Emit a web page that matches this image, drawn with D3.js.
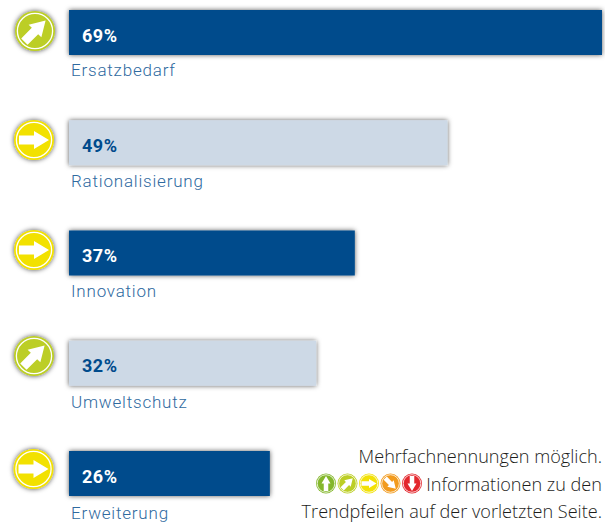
<!DOCTYPE html>
<html><head><meta charset="utf-8">
<script src="https://cdnjs.cloudflare.com/ajax/libs/d3/7.8.5/d3.min.js"></script>
<style>html,body{margin:0;padding:0;background:#fff}svg{display:block}</style>
</head><body><svg id="c" width="605" height="524"></svg>
<script>
const categories=["Ersatzbedarf","Rationalisierung","Innovation","Umweltschutz","Erweiterung"];
const values=[69,49,37,32,26];
const trends=["upRight","right","right","upRight","right"];
const legendTrends=["up","upRight","right","downRight","down"];
const noteLines=["Mehrfachnennungen möglich.","Informationen zu den","Trendpfeilen auf der vorletzten Seite."];

const navy="#004b8c",pale="#cdd9e6",labelBlue="#2f6a9f";
const trendColor={up:"#84b72c",upRight:"#bcce25",right:"#f2e106",downRight:"#f29b1e",down:"#e3272d"};
const trendAngle={up:-90,upRight:-45,right:0,downRight:45,down:90};
const barFill=[navy,pale,navy,pale,navy], valueFill=["#fff",navy,"#fff",navy,"#fff"];
const iconCx=[35,34,34,34,33.5], iconCy=[31,140,250,356,469];
const labelY=[76,187,297,407.5,518.5];

const svg=d3.select("#c");
const defs=svg.append("defs");
const f=defs.append("filter").attr("id","sh").attr("x","-10%").attr("y","-30%").attr("width","120%").attr("height","160%");
f.append("feDropShadow").attr("dx",0).attr("dy",0).attr("stdDeviation",2.8).attr("flood-color","#000").attr("flood-opacity",0.65);
const f2=defs.append("filter").attr("id","sh2").attr("x","-30%").attr("y","-30%").attr("width","160%").attr("height","160%");
f2.append("feDropShadow").attr("dx",0).attr("dy",0).attr("stdDeviation",2.6).attr("flood-color","#000").attr("flood-opacity",0.7);

const x=d3.scaleLinear().domain([0,69]).range([69,602]);
const y=d3.scalePoint().domain(categories).range([10,451]);
const bw=45;

function icon(g,t,r,shadow){
  const s=r/20;
  g.append("circle").attr("r",r).attr("fill",trendColor[t]).attr("filter",shadow?"url(#sh2)":null);
  g.append("circle").attr("r",r*0.88).attr("fill","none").attr("stroke","#fff").attr("stroke-width",Math.max(0.8,1.3*s));
  g.append("path").attr("d",d3.line()([[-15,-4.5],[0,-4.5],[0,-9],[15,0],[0,9],[0,4.5],[-15,4.5]].map(p=>[p[0]*s,p[1]*s]))+"Z")
    .attr("fill","#fff").attr("transform",`rotate(${trendAngle[t]})`);
}

const rows=svg.selectAll("g.row").data(categories).join("g").attr("class","row");
rows.append("rect").attr("x",x(0)).attr("y",c=>y(c)).attr("height",bw)
  .attr("width",(c,i)=>x(values[i])-x(0)).attr("fill",(c,i)=>barFill[i]).attr("filter","url(#sh)");
rows.append("text").attr("x",82).attr("y",c=>y(c)+31.5).text((c,i)=>values[i]+"%")
  .attr("fill",(c,i)=>valueFill[i]).attr("font-family","Roboto").attr("font-weight",700).attr("font-size",18).attr("letter-spacing",0.5);
rows.append("text").attr("x",71).attr("y",(c,i)=>labelY[i]).text(c=>c)
  .attr("fill",labelBlue).attr("font-family","Roboto").attr("font-weight",300).attr("font-size",17).attr("letter-spacing",0.8);
rows.each(function(c,i){
  icon(d3.select(this).append("g").attr("transform",`translate(${iconCx[i]},${iconCy[i]})`),trends[i],20,true);
});

const note=svg.append("g").attr("font-family","Open Sans").attr("font-weight",300).attr("font-size",18.1).attr("fill","#1d1d1b").attr("text-anchor","end");
[463,491,518].forEach((yy,i)=>note.append("text").attr("x",602).attr("y",yy).text(noteLines[i]));
const lx=d3.scalePoint().domain(legendTrends).range([326,412]);
legendTrends.forEach(t=>icon(svg.append("g").attr("transform",`translate(${lx(t)},483.5)`),t,10,false));
</script></body></html>
